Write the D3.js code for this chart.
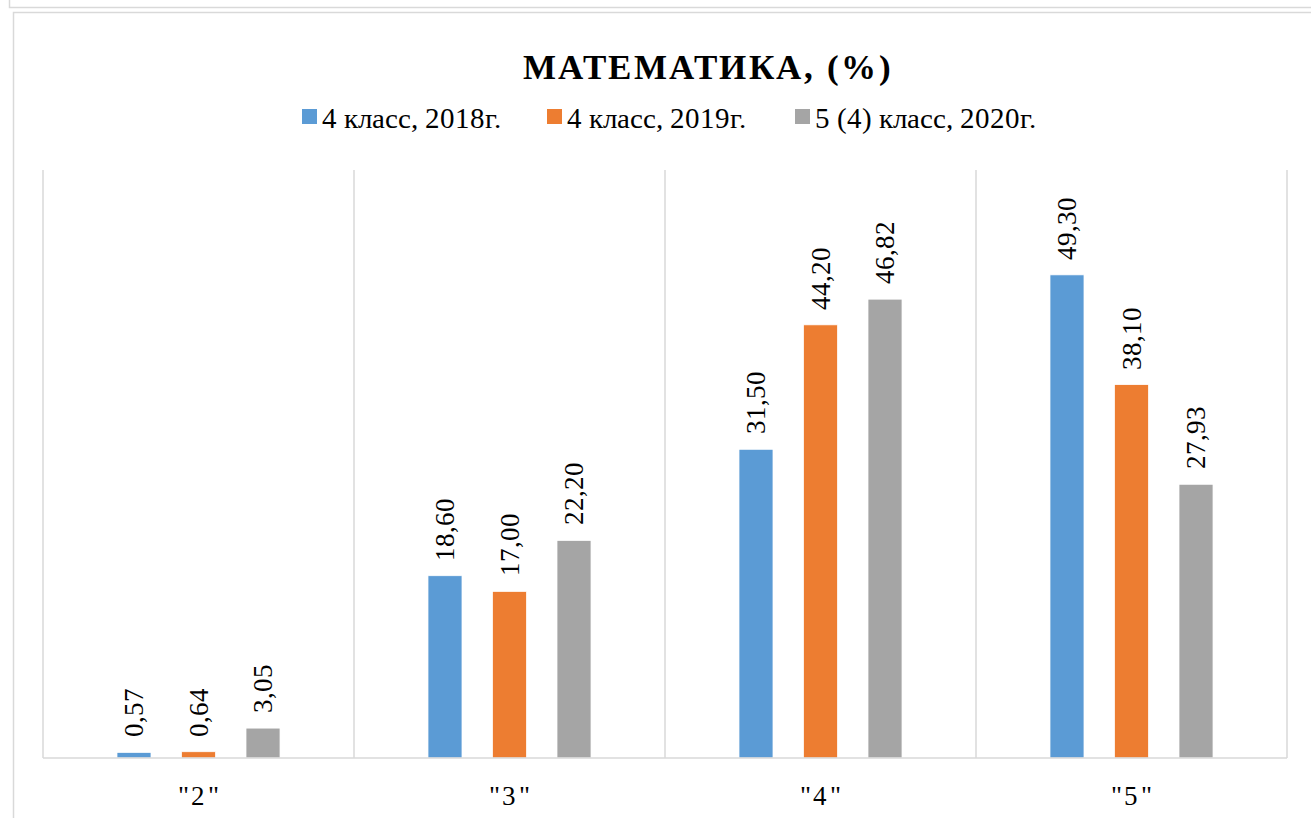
<!DOCTYPE html>
<html>
<head>
<meta charset="utf-8">
<script src="https://cdn.jsdelivr.net/npm/d3@7"></script>
<style>
  @font-face { font-family: "ChartSerif"; src: local("Liberation Serif"), local("LiberationSerif"); font-weight: normal; }
  @font-face { font-family: "ChartSerif"; src: local("Liberation Serif Bold"), local("LiberationSerif-Bold"); font-weight: bold; }
</style>
</head>
<body style="margin:0">
<svg id="chart" width="1311" height="818"></svg>
<script>
// data
const categories = ['"2"', '"3"', '"4"', '"5"'];
const seriesNames = ["4 класс, 2018г.", "4 класс, 2019г.", "5 (4) класс, 2020г."];
const values2018 = [0.57, 18.60, 31.50, 49.30];
const values2019 = [0.64, 17.00, 44.20, 38.10];
const values2020 = [3.05, 22.20, 46.82, 27.93];
const colors = ["#5B9BD5", "#ED7D31", "#A5A5A5"];

const series = [values2018, values2019, values2020];
const serifFont = "ChartSerif, 'Liberation Serif'";

const svg = d3.select("#chart");
const grid = "#d9d9d9";

// outer frames
svg.append("path")
    .attr("d", "M9.5,0 V7.5 H1311")
    .attr("fill", "none").attr("stroke", grid).attr("stroke-width", 1.5);
svg.append("path")
    .attr("d", "M13.5,818 V12.5 H1311")
    .attr("fill", "none").attr("stroke", grid).attr("stroke-width", 1.5);

const plot = { left: 43, right: 1287, top: 170, bottom: 758 };

const x = d3.scaleBand()
    .domain(categories)
    .range([plot.left, plot.right])
    .padding(0);

const xs = d3.scaleBand()
    .domain(d3.range(series.length))
    .range([0, x.bandwidth()])
    .paddingInner(0.473)
    .paddingOuter(1.147);

const y = d3.scaleLinear()
    .domain([0, 60])
    .range([plot.bottom, plot.top]);

// vertical category separators
const seps = categories.map(c => x(c)).concat([plot.right]);
svg.append("g")
    .selectAll("line")
    .data(seps)
    .join("line")
    .attr("x1", d => d).attr("x2", d => d)
    .attr("y1", plot.top).attr("y2", plot.bottom)
    .attr("stroke", grid).attr("stroke-width", 1.5);

// bars
const flat = [];
series.forEach((vals, si) => {
    vals.forEach((v, ci) => flat.push({ si: si, cat: categories[ci], v: v }));
});

svg.append("g")
    .selectAll("rect")
    .data(flat)
    .join("rect")
    .attr("x", d => x(d.cat) + xs(d.si))
    .attr("width", xs.bandwidth())
    .attr("y", d => y(d.v))
    .attr("height", d => y(0) - y(d.v))
    .attr("fill", d => colors[d.si])
    .attr("stroke", "#fff")
    .attr("stroke-width", 0.75);

// data labels (rotated)
const fmt = v => v.toFixed(2).replace(".", ",");
svg.append("g")
    .selectAll("text")
    .data(flat)
    .join("text")
    .attr("transform", d => {
        let cx = x(d.cat) + xs(d.si) + xs.bandwidth() / 2;
        return "translate(" + cx + "," + (y(d.v) - 15) + ") rotate(-90)";
    })
    .attr("dy", "0.34em")
    .style("font-family", serifFont)
    .attr("font-size", 27)
    .text(d => fmt(d.v));

// baseline
svg.append("line")
    .attr("x1", plot.left).attr("x2", plot.right)
    .attr("y1", plot.bottom).attr("y2", plot.bottom)
    .attr("stroke", grid).attr("stroke-width", 1.5);

// category labels
svg.append("g")
    .selectAll("text")
    .data(categories)
    .join("text")
    .attr("x", d => x(d) + x.bandwidth() / 2 + 1)
    .attr("y", 805)
    .attr("text-anchor", "middle")
    .style("font-family", serifFont)
    .attr("font-size", 27)
    .attr("letter-spacing", 2.5)
    .text(d => d);

// title
svg.append("text")
    .attr("x", 708)
    .attr("y", 79)
    .attr("text-anchor", "middle")
    .style("font-family", serifFont)
    .attr("font-size", 35)
    .attr("font-weight", "bold")
    .attr("letter-spacing", 2.5)
    .text("МАТЕМАТИКА, (%)");

// legend
const legendX = [302, 547, 795];
const legend = svg.append("g")
    .selectAll("g")
    .data(seriesNames)
    .join("g")
    .attr("transform", (d, i) => "translate(" + legendX[i] + ",0)");
legend.append("rect")
    .attr("y", 109)
    .attr("width", 15).attr("height", 15)
    .attr("fill", (d, i) => colors[i]);
legend.append("text")
    .attr("x", 20)
    .attr("y", 128)
    .style("font-family", serifFont)
    .attr("font-size", 29)
    .text(d => d);
</script>
</body>
</html>
